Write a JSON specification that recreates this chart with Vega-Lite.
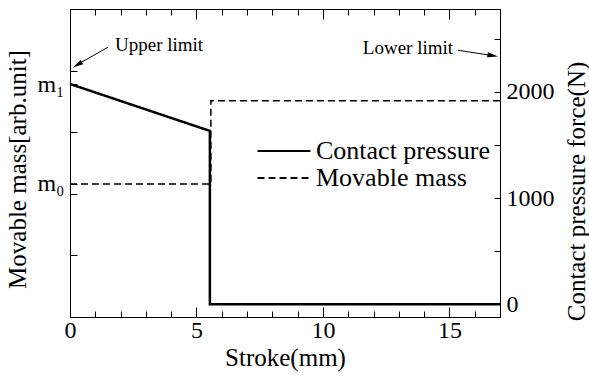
{
  "$schema": "https://vega.github.io/schema/vega-lite/v6.json",
  "width": 430,
  "height": 308,
  "autosize": {"type": "none"},
  "padding": {"left": 70, "top": 9, "right": 89, "bottom": 59},
  "datasets": {
    "mass": [
      {"x": 0, "v": 2.16, "s": "Movable mass", "o": 1},
      {"x": 5.57, "v": 2.16, "s": "Movable mass", "o": 2},
      {"x": 5.57, "v": 3.51, "s": "Movable mass", "o": 3},
      {"x": 17, "v": 3.51, "s": "Movable mass", "o": 4}
    ],
    "force": [
      {"x": 0, "f": 2074, "s": "Contact pressure", "o": 1},
      {"x": 5.53, "f": 1632, "s": "Contact pressure", "o": 2},
      {"x": 5.53, "f": 0, "s": "Contact pressure", "o": 3},
      {"x": 17, "f": 0, "s": "Contact pressure", "o": 4}
    ],
    "notes": [
      {"x": 3.52, "v": 4.42, "t": "Upper limit"},
      {"x": 13.36, "v": 4.37, "t": "Lower limit"}
    ],
    "arrows": [
      {"x": 1.5, "v": 4.38, "x2": 0.3, "v2": 4.1, "hx": 0.32, "hv": 4.1, "a": 240},
      {"x": 15.34, "v": 4.33, "x2": 16.6, "v2": 4.25, "hx": 16.68, "hv": 4.245, "a": 100}
    ]
  },
  "config": {
    "font": "Liberation Serif",
    "view": {"stroke": "black", "strokeWidth": 1},
    "axis": {
      "domainColor": "black",
      "tickColor": "black",
      "labelColor": "black",
      "titleColor": "black",
      "labelFont": "Liberation Serif",
      "titleFont": "Liberation Serif",
      "labelFontSize": 24,
      "titleFontSize": 25,
      "titleFontWeight": "normal",
      "labelOverlap": false,
      "labelFlush": false,
      "labelBound": false,
      "grid": false
    },
    "legend": {"labelFont": "Liberation Serif"}
  },
  "resolve": {"scale": {"x": "independent", "y": "independent"}},
  "layer": [
    {
      "layer": [
        {
          "data": {"name": "mass"},
          "mark": {"type": "line", "strokeWidth": 1.5, "color": "black"},
          "encoding": {
            "x": {
              "field": "x", "type": "quantitative",
              "scale": {"domain": [0, 17], "nice": false},
              "axis": {
                "orient": "bottom",
                "title": "Stroke(mm)",
                "values": [0,1,2,3,4,5,6,7,8,9,10,11,12,13,14,15,16,17],
                "tickCount": 40,
                "format": "d",
                "labelExpr": "datum.value % 5 === 0 ? datum.label : ''",
                "labelOverlap": false,
                "labelFlush": false,
                "tickSize": {"condition": {"test": "datum.value % 5 === 0", "value": -10}, "value": -6},
                "labelPadding": 11,
                "titleX": 215,
                "titleY": 40,
                "titleBaseline": "middle"
              }
            },
            "y": {
              "field": "v", "type": "quantitative",
              "scale": {"domain": [0, 5], "nice": false},
              "axis": {
                "orient": "left",
                "title": "Movable mass[arb.unit]",
                "values": [1, 2, 2.16, 3, 3.78, 4],
                "tickCount": 20,
                "labelExpr": "datum.value == 2.16 ? 'm₀' : datum.value == 3.78 ? 'm₁' : ''",
                "labelOverlap": false,
                "tickSize": -7,
                "labelPadding": 13,
                "titleX": -53,
                "titleY": 160,
                "titleBaseline": "middle"
              }
            },
            "order": {"field": "o", "type": "quantitative"},
            "strokeDash": {
              "field": "s", "type": "nominal",
              "scale": {"domain": ["Contact pressure", "Movable mass"], "range": [[1, 0], [7, 4]]},
              "legend": {
                "title": null,
                "orient": "none",
                "legendX": 201,
                "legendY": 129,
                "padding": 0,
                "symbolType": "M-5,0H5",
                "symbolSize": 112,
                "symbolStrokeColor": "black",
                "symbolStrokeWidth": 2,
                "labelFontSize": 26,
                "labelOffset": 19,
                "labelLimit": 300,
                "rowPadding": 1
              }
            }
          }
        },
        {
          "data": {"name": "notes"},
          "mark": {"type": "text", "fontSize": 19, "color": "black", "font": "Liberation Serif"},
          "encoding": {
            "x": {"field": "x", "type": "quantitative"},
            "y": {"field": "v", "type": "quantitative"},
            "text": {"field": "t"}
          }
        },
        {
          "data": {"name": "arrows"},
          "mark": {"type": "rule", "color": "black", "strokeWidth": 1},
          "encoding": {
            "x": {"field": "x", "type": "quantitative"},
            "y": {"field": "v", "type": "quantitative"},
            "x2": {"field": "x2"},
            "y2": {"field": "v2"}
          }
        },
        {
          "data": {"name": "arrows"},
          "mark": {"type": "point", "shape": "M0,-1.4L0.55,1L-0.55,1Z", "filled": true, "color": "black", "size": 80, "opacity": 1},
          "encoding": {
            "x": {"field": "hx", "type": "quantitative"},
            "y": {"field": "hv", "type": "quantitative"},
            "angle": {"field": "a", "type": "quantitative", "scale": null}
          }
        }
      ]
    },
    {
      "data": {"name": "force"},
      "mark": {"type": "line", "strokeWidth": 2.5, "color": "black"},
      "encoding": {
        "x": {
          "field": "x", "type": "quantitative",
          "scale": {"domain": [0, 17], "nice": false},
          "axis": {
            "orient": "top",
            "title": null,
            "labels": false,
            "values": [0,1,2,3,4,5,6,7,8,9,10,11,12,13,14,15,16,17],
            "tickCount": 40,
            "tickSize": {"condition": {"test": "datum.value % 5 === 0", "value": -10}, "value": -6}
          }
        },
        "y": {
          "field": "f", "type": "quantitative",
          "scale": {"domain": [-120, 2780], "nice": false},
          "axis": {
            "orient": "right",
            "title": "Contact pressure force(N)",
            "titleAngle": 270,
            "titleX": 76,
            "titleY": 182,
            "titleBaseline": "middle",
            "values": [0, 500, 1000, 1500, 2000, 2500],
            "tickCount": 20,
            "labelExpr": "datum.value % 1000 === 0 ? datum.label : ''",
            "labelOverlap": false,
            "format": "d",
            "tickSize": -6,
            "labelPadding": 12
          }
        },
        "order": {"field": "o", "type": "quantitative"},
        "strokeDash": {"field": "s", "type": "nominal"}
      }
    }
  ]
}
